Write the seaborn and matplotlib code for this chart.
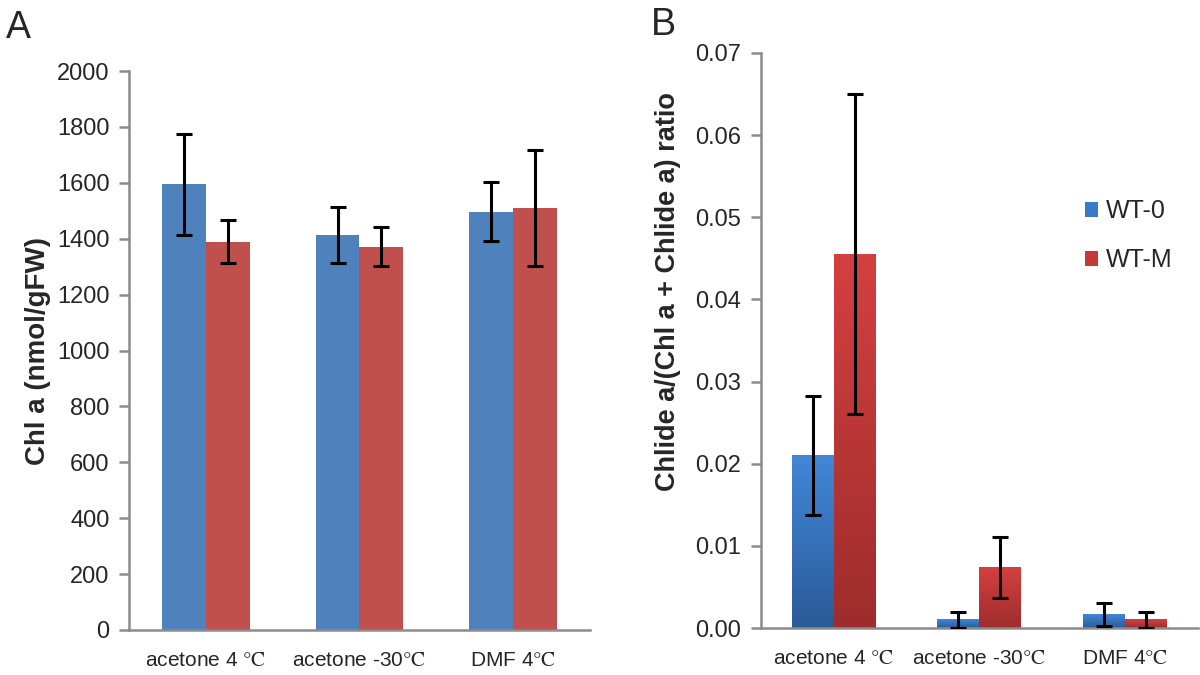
import matplotlib
matplotlib.use("Agg")
import matplotlib.pyplot as plt
import numpy as np
import pandas as pd
import seaborn as sns
from matplotlib.colors import LinearSegmentedColormap
from matplotlib.container import BarContainer

# ---- data ----
categories = ["acetone 4 $\\mathrm{°C}$", "acetone -30$\\mathrm{°C}$", "DMF 4$\\mathrm{°C}$"]
series = ["WT-0", "WT-M"]

chl_wt0 = [1595, 1412, 1497]
chl_wt0_err = [180, 100, 105]
chl_wtm = [1390, 1371, 1510]
chl_wtm_err = [77, 70, 207]

ratio_wt0 = [0.0210, 0.0010, 0.0016]
ratio_wt0_err = [0.0073, 0.0010, 0.0014]
ratio_wtm = [0.0455, 0.0074, 0.0010]
ratio_wtm_err = [0.0195, 0.0037, 0.0010]

yticks_a = [0, 200, 400, 600, 800, 1000, 1200, 1400, 1600, 1800, 2000]
yticks_b = [0.00, 0.01, 0.02, 0.03, 0.04, 0.05, 0.06, 0.07]

df_a = pd.DataFrame({
    "cat": categories * 2,
    "series": [series[0]] * 3 + [series[1]] * 3,
    "val": chl_wt0 + chl_wtm,
})
df_b = pd.DataFrame({
    "cat": categories * 2,
    "series": [series[0]] * 3 + [series[1]] * 3,
    "val": ratio_wt0 + ratio_wtm,
})

sns.set_theme(style="white")
plt.rcParams["font.family"] = ["Liberation Sans", "DejaVu Sans"]
plt.rcParams["mathtext.fontset"] = "stix"

fig = plt.figure(figsize=(12, 6.75), dpi=100)
axA = fig.add_axes([0.1075, 0.0667, 0.384, 0.828])
axB = fig.add_axes([0.634, 0.0696, 0.364, 0.852])

pal_a = {"WT-0": "#4f81bd", "WT-M": "#c0504d"}
pal_b = {"WT-0": "#3a78c8", "WT-M": "#c43a3a"}

sns.barplot(data=df_a, x="cat", y="val", hue="series", palette=pal_a,
            width=0.57, ax=axA, legend=False, saturation=1, errorbar=None,
            linewidth=0)
sns.barplot(data=df_b, x="cat", y="val", hue="series", palette=pal_b,
            width=0.575, ax=axB, legend=True, saturation=1, errorbar=None,
            linewidth=0)

bars_a = [c for c in axA.containers if isinstance(c, BarContainer)]
bars_b = [c for c in axB.containers if isinstance(c, BarContainer)]

def add_err(ax, conts, vals_list, errs_list):
    for cont, vals, errs in zip(conts, vals_list, errs_list):
        xs = [b.get_x() + b.get_width() / 2 for b in cont]
        ax.errorbar(xs, vals, yerr=errs, fmt="none", ecolor="black",
                    elinewidth=2.2, capsize=5.5, capthick=2.2, zorder=5)

add_err(axA, bars_a, [chl_wt0, chl_wtm], [chl_wt0_err, chl_wtm_err])
add_err(axB, bars_b, [ratio_wt0, ratio_wtm], [ratio_wt0_err, ratio_wtm_err])

# gradient fills for panel B
grads = [("#2b5a98", "#4287d8"), ("#9e2c2c", "#d44040")]
for i, cont in enumerate(bars_b):
    cmap = LinearSegmentedColormap.from_list("g%d" % i, list(grads[i]))
    for b in cont:
        x0, y0 = b.get_x(), b.get_y()
        w, h = b.get_width(), b.get_height()
        grad = np.linspace(0, 1, 256).reshape(-1, 1)
        axB.imshow(grad, extent=[x0, x0 + w, y0, y0 + h], origin="lower",
                   aspect="auto", cmap=cmap, zorder=2)

gray = "#8c8c8c"
for ax, yt, ylim, fmt in [(axA, yticks_a, (0, 2000), "{:d}"),
                          (axB, yticks_b, (0, 0.07), "{:.2f}")]:
    ax.set_xlim(-0.5, 2.5)
    ax.set_ylim(*ylim)
    ax.set_yticks(yt)
    ax.set_yticklabels([fmt.format(v) for v in yt], fontsize=17)
    ax.set_xticks([0, 1, 2])
    ax.set_xticklabels(categories, fontsize=15)
    ax.set_xticks([-0.5, 0.5, 1.5, 2.5], minor=True)
    ax.tick_params(axis="x", which="major", length=0, pad=15)
    ax.tick_params(axis="x", which="minor", length=7, width=1.8, color=gray,
                   direction="out")
    ax.tick_params(axis="y", length=7, width=1.8, color=gray, direction="out",
                   pad=7, left=True)
    for s in ["top", "right"]:
        ax.spines[s].set_visible(False)
    for s in ["left", "bottom"]:
        ax.spines[s].set_color(gray)
        ax.spines[s].set_linewidth(1.8)
    ax.set_xlabel("")
    ax.grid(False)

axA.set_ylabel("Chl a (nmol/gFW)", fontsize=20, fontweight="bold", labelpad=4)
axB.set_ylabel("Chlide a/(Chl a + Chlide a) ratio", fontsize=19.5,
               fontweight="bold", labelpad=10)
axB.yaxis.label.set_y(0.585)

leg = axB.legend(loc="upper left", bbox_to_anchor=(0.69, 0.785), frameon=False,
                 fontsize=18, handlelength=0.55, handleheight=0.55,
                 handletextpad=0.3, labelspacing=1.0)

fig.text(0.005, 0.985, "A", fontsize=27, va="top", ha="left")
fig.text(0.542, 0.99, "B", fontsize=27, va="top", ha="left")

fig.savefig("out.png", dpi=100)
